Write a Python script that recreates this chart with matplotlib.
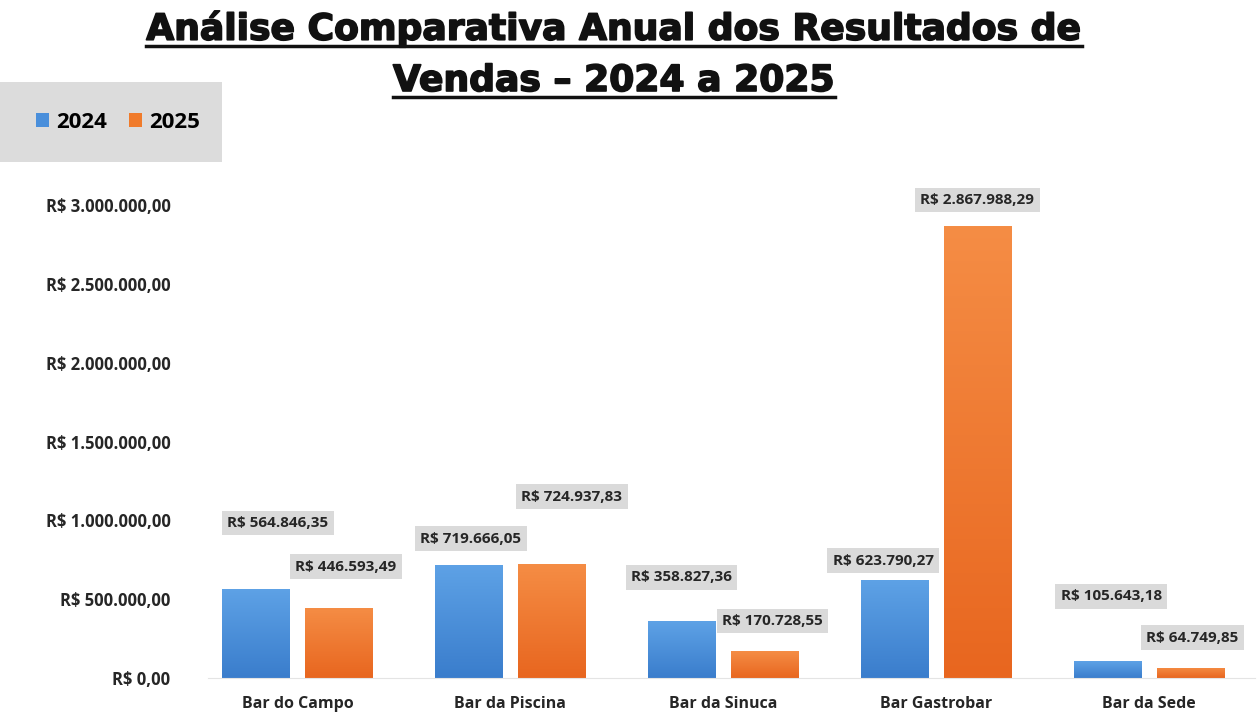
import numpy as np
import matplotlib.pyplot as plt
import matplotlib.patheffects as pe
from matplotlib.patches import Rectangle
from matplotlib.colors import LinearSegmentedColormap

categories = ['Bar do Campo', 'Bar da Piscina', 'Bar da Sinuca', 'Bar Gastrobar', 'Bar da Sede']
vendas_2024 = [564846.35, 719666.05, 358827.36, 623790.27, 105643.18]
vendas_2025 = [446593.49, 724937.83, 170728.55, 2867988.29, 64749.85]
series_names = ['2024', '2025']
y_ticks = [0, 500000, 1000000, 1500000, 2000000, 2500000, 3000000]

# deslocamento dos rótulos (pixels) em relação ao topo da barra
offsets_2024 = [(22, 66), (2, 26), (0, 44), (-11, 19), (4, 65)]
offsets_2025 = [(7, 41), (20, 67), (8, 30), (0, 26), (2, 30)]


def brl(v):
    s = f'{v:,.2f}'
    s = s.replace(',', 'X').replace('.', ',').replace('X', '.')
    return 'R$ ' + s


fig = plt.figure(figsize=(12.6, 7.14), dpi=100)
ax = fig.add_axes([208 / 1260, 36 / 714, 1047 / 1260, 498 / 714])

x = np.arange(len(categories))
w = 0.315
d = 0.195
blue = '#4a8fdb'
orange = '#f07b2b'
cmap_b = LinearSegmentedColormap.from_list('b', ['#3a7dcc', '#5ea2e6'])
cmap_o = LinearSegmentedColormap.from_list('o', ['#e8661f', '#f58d45'])

bars1 = ax.bar(x - d, vendas_2024, w, color=blue, label=series_names[0], zorder=2)
bars2 = ax.bar(x + d, vendas_2025, w, color=orange, label=series_names[1], zorder=2)

# gradiente vertical nas barras
grad = np.linspace(0, 1, 256).reshape(-1, 1)
for bars, cm in [(bars1, cmap_b), (bars2, cmap_o)]:
    for b in bars:
        x0, y0 = b.get_x(), b.get_y()
        im = ax.imshow(grad, cmap=cm, origin='lower', aspect='auto',
                       extent=[x0, x0 + b.get_width(), y0, y0 + b.get_height()], zorder=2.5)
        im.set_clip_path(b)
ax.set_xlim(-0.42, 4.5)
ax.set_ylim(0, 3.16e6)

for bars, offs in [(bars1, offsets_2024), (bars2, offsets_2025)]:
    for b, (dx, dy) in zip(bars, offs):
        ax.annotate(brl(b.get_height()), (b.get_x() + b.get_width() / 2, b.get_height()),
                    xytext=(dx, dy), textcoords='offset pixels', ha='center', va='center',
                    fontsize=11, fontweight='bold', color='#262626', family='Open Sans',
                    bbox=dict(boxstyle='square,pad=0.35', fc='#dadada', ec='none'), zorder=4)

ax.set_yticks(y_ticks)
ax.set_yticklabels([brl(v) for v in y_ticks], fontsize=12, fontweight='bold',
                   family='Open Sans', color='#262626')
ax.set_xticks(x)
ax.set_xticklabels(categories, fontsize=11.5, fontweight='bold', family='Open Sans', color='#262626')
ax.tick_params(axis='both', length=0)
ax.tick_params(axis='y', pad=27)
ax.tick_params(axis='x', pad=13)
for s in ['top', 'right', 'left']:
    ax.spines[s].set_visible(False)
ax.spines['bottom'].set_color('#e4e4e4')

# título sublinhado
tstyle = dict(ha='center', va='center', fontsize=26, fontweight='bold', color='#111111',
              path_effects=[pe.withStroke(linewidth=1.2, foreground='#111111')])
t1 = fig.text(614 / 1260, 1 - 29 / 714, 'Análise Comparativa Anual dos Resultados de', **tstyle)
t2 = fig.text(614 / 1260, 1 - 81 / 714, 'Vendas – 2024 a 2025', **tstyle)
fig.canvas.draw()
r = fig.canvas.get_renderer()
for t in [t1, t2]:
    bb = t.get_window_extent(r)
    yy = (bb.y0 + 1) / fig.bbox.height
    fig.add_artist(plt.Line2D([bb.x0 / fig.bbox.width, bb.x1 / fig.bbox.width], [yy, yy],
                              color='#111111', lw=2.5, transform=fig.transFigure))

# legenda em caixa cinza
fig.patches.append(Rectangle((0, 1 - 162 / 714), 222 / 1260, 80 / 714, transform=fig.transFigure,
                             fc='#dcdcdc', ec='none', zorder=0))
fig.legend(handles=[bars1, bars2], labels=series_names, loc='center',
           bbox_to_anchor=(118 / 1260, 1 - 122 / 714), ncol=2, frameon=False,
           handlelength=0.6, handleheight=0.6, handletextpad=0.3, columnspacing=1.0,
           prop={'weight': 'bold', 'size': 16, 'family': 'Open Sans'})

fig.savefig('out.png', dpi=100)
